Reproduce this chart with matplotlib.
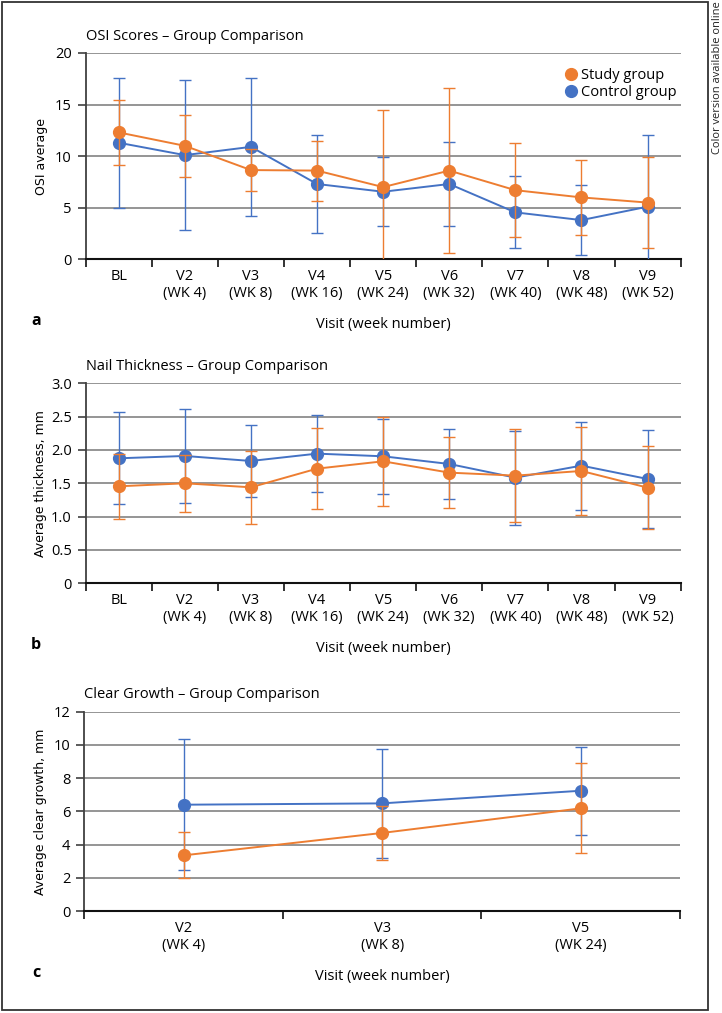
import matplotlib
matplotlib.use("Agg")
import matplotlib.pyplot as plt
import numpy as np
from matplotlib.lines import Line2D
from matplotlib.patches import Rectangle
from matplotlib.ticker import FixedLocator

# ---- data ----
visits_long = ["BL", "V2\n(WK 4)", "V3\n(WK 8)", "V4\n(WK 16)", "V5\n(WK 24)",
               "V6\n(WK 32)", "V7\n(WK 40)", "V8\n(WK 48)", "V9\n(WK 52)"]
visits_short = ["V2\n(WK 4)", "V3\n(WK 8)", "V5\n(WK 24)"]

osi_study = [12.3, 11.0, 8.65, 8.6, 7.0, 8.6, 6.7, 6.0, 5.5]
osi_study_err = [3.15, 3.0, 2.0, 2.9, 7.5, 8.0, 4.55, 3.6, 4.4]
osi_control = [11.3, 10.1, 10.9, 7.3, 6.55, 7.3, 4.55, 3.8, 5.1]
osi_control_err = [6.3, 7.25, 6.7, 4.75, 3.35, 4.1, 3.5, 3.4, 6.95]

thick_study = [1.455, 1.50, 1.44, 1.72, 1.83, 1.66, 1.615, 1.685, 1.435]
thick_study_err = [0.49, 0.43, 0.55, 0.61, 0.67, 0.53, 0.70, 0.655, 0.625]
thick_control = [1.875, 1.91, 1.835, 1.945, 1.905, 1.79, 1.585, 1.765, 1.565]
thick_control_err = [0.69, 0.71, 0.54, 0.58, 0.56, 0.53, 0.705, 0.66, 0.73]

growth_study = [3.35, 4.7, 6.18]
growth_study_err = [1.39, 1.6, 2.71]
growth_control = [6.4, 6.48, 7.24]
growth_control_err = [3.96, 3.3, 2.66]

ORANGE = "#ED7D31"
BLUE = "#4472C4"
W, H = 722, 1013
FONT = ["Open Sans", "DejaVu Sans"]

plt.rcParams["font.family"] = FONT
fig = plt.figure(figsize=(W / 100, H / 100), dpi=100)


def fx(px):
    return px / W


def fy(py):
    return 1 - py / H


def panel(top, bottom, left, right, cats, study, study_err, control, control_err,
          ymax, ystep, ylabels, title, ylabel, letter):
    ax = fig.add_axes([fx(left), fy(bottom), fx(right) - fx(left), fy(top) - fy(bottom)])
    x = np.arange(len(cats))
    ax.errorbar(x, control, yerr=control_err, color=BLUE, marker="o", ms=8.5, lw=1.4,
                elinewidth=1.0, capsize=4, capthick=1.0, zorder=3)
    ax.errorbar(x, study, yerr=study_err, color=ORANGE, marker="o", ms=8.5, lw=1.4,
                elinewidth=1.0, capsize=4, capthick=1.0, zorder=4)
    ax.set_xlim(-0.5, len(cats) - 0.5)
    ax.set_ylim(0, ymax)
    ticks = np.arange(0, ymax + ystep / 2, ystep)
    ax.set_yticks(ticks)
    ax.set_yticklabels(ylabels, fontsize=10.5)
    ax.yaxis.grid(True, color="#8c8c8c", lw=1.3)
    ax.set_axisbelow(True)
    for s in ("top", "right"):
        ax.spines[s].set_visible(False)
    ax.spines["left"].set_color("#404040")
    ax.spines["left"].set_linewidth(1.3)
    ax.spines["bottom"].set_color("#111111")
    ax.spines["bottom"].set_linewidth(1.5)
    ax.xaxis.set_major_locator(FixedLocator(np.arange(len(cats) + 1) - 0.5))
    ax.xaxis.set_minor_locator(FixedLocator(x))
    ax.set_xticklabels([], minor=False)
    ax.set_xticklabels(cats, minor=True, fontsize=10.5, linespacing=1.2)
    ax.tick_params(axis="x", which="major", length=6, width=1.2, color="#111111")
    ax.tick_params(axis="x", which="minor", length=0, pad=7)
    ax.tick_params(axis="y", length=6, width=1.2, color="#404040", pad=4)
    fig.text(fx(41), (fy(top) + fy(bottom)) / 2, ylabel, family="DejaVu Sans",
             fontsize=9, rotation=90, ha="center", va="center")
    fig.text(fx(left), fy(top - 17), title, fontsize=10.5, ha="left", va="center")
    fig.text(fx((left + right) / 2), fy(bottom + 65), "Visit (week number)",
             fontsize=10.5, ha="center", va="center")
    fig.text(fx(36), fy(bottom + 62), letter, fontsize=11.5, fontweight="bold",
             ha="center", va="center")
    return ax


ax_a = panel(53, 259.3, 85.7, 680.6, visits_long, osi_study, osi_study_err,
             osi_control, osi_control_err, 20, 5, ["0", "5", "10", "15", "20"],
             "OSI Scores \u2013 Group Comparison", "OSI average", "a")
panel(383.3, 583.3, 85.7, 680.6, visits_long, thick_study, thick_study_err,
      thick_control, thick_control_err, 3.0, 0.5,
      ["0", "0.5", "1.0", "1.5", "2.0", "2.5", "3.0"],
      "Nail Thickness \u2013 Group Comparison", "Average thickness, mm", "b")
panel(711.7, 911, 84.3, 680, visits_short, growth_study, growth_study_err,
      growth_control, growth_control_err, 12, 2, ["0", "2", "4", "6", "8", "10", "12"],
      "Clear Growth \u2013 Group Comparison", "Average clear growth, mm", "c")

handles = [Line2D([], [], color=ORANGE, marker="o", ls="none", ms=8.5),
           Line2D([], [], color=BLUE, marker="o", ls="none", ms=8.5)]
ax_a.legend(handles, ["Study group", "Control group"], loc="upper right",
            bbox_to_anchor=(fx(684), fy(61)), bbox_transform=fig.transFigure,
            frameon=False, fontsize=10.5, handletextpad=0.1, labelspacing=0.1,
            borderpad=0, handlelength=1.2)

fig.patches.append(Rectangle((fx(1.5), fy(1010)), fx(708) - fx(1.5), fy(1.5) - fy(1010),
                             transform=fig.transFigure, fill=False,
                             edgecolor="#333333", lw=1.3))
fig.text(fx(717), fy(1), "Color version available online", rotation=90,
         fontsize=8, ha="center", va="top", color="#222222")

fig.savefig("out.png", dpi=100)
